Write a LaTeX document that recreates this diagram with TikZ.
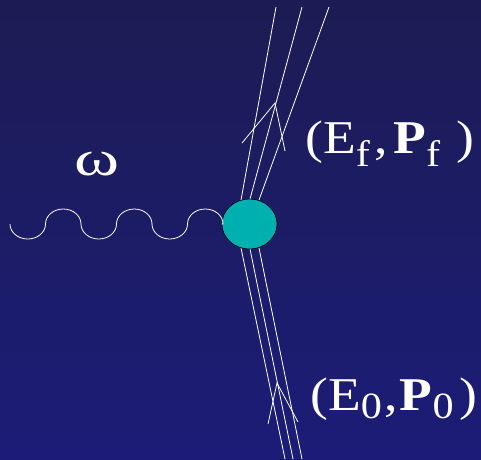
\documentclass[tikz,border=0pt]{standalone}
\usepackage{fontspec}
\setmainfont{Liberation Serif}
\usetikzlibrary{shapes.geometric}
\definecolor{bgtop}{RGB}{28,28,84}
\definecolor{bgbot}{RGB}{28,28,120}
\definecolor{blob}{RGB}{0,176,176}
\newcommand\lowsub[2]{\raisebox{-#1}{\fontsize{37}{40}\selectfont #2}}
\begin{document}
\begin{tikzpicture}[x=1pt,y=-1pt,
  wline/.style={white,line width=0.8pt},
  lbl/.style={text=white,inner sep=0pt,anchor=base west,xscale=1.14,font=\fontsize{47}{50}\selectfont}]
\useasboundingbox (0pt,0pt) rectangle (481pt,-459pt);
\shade[top color=bgtop,bottom color=bgbot] (0pt,0pt) rectangle (481pt,-459pt);
% particle lines
\coordinate (u1) at (241,200); \coordinate (u2) at (250,199); \coordinate (u3) at (259,200);
\coordinate (t1) at (276,7); \coordinate (t2) at (302,7); \coordinate (t3) at (329,7);
\coordinate (d1) at (241,248); \coordinate (d2) at (250,249); \coordinate (d3) at (259,248);
\coordinate (b1) at (285,459); \coordinate (b2) at (293,459); \coordinate (b3) at (302,459);
\draw[wline] (u1) -- (t1); \draw[wline] (u2) -- (t2); \draw[wline] (u3) -- (t3);
\draw[wline] (d1) -- (b1); \draw[wline] (d2) -- (b2); \draw[wline] (d3) -- (b3);
% arrows
\coordinate (ua) at (275,103); \coordinate (ul) at (242,143); \coordinate (ur) at (285,151);
\draw[wline] (ul) -- (ua) -- (ur);
\coordinate (da) at (277,383); \coordinate (dl) at (268,424); \coordinate (dr) at (298,422);
\draw[wline] (dl) -- (da) -- (dr);
% vertex
\node[ellipse,draw=black,fill=blob,line width=0.6pt,minimum width=55pt,minimum height=50pt,inner sep=0pt] (v) at (249.5,224) {};
% photon
\coordinate (w0) at (10,224);
\draw[wline] (w0)
  arc[start angle=180,end angle=0,x radius=17.75,y radius=15]
  arc[start angle=180,end angle=360,x radius=17.75,y radius=15]
  arc[start angle=180,end angle=0,x radius=17.75,y radius=15]
  arc[start angle=180,end angle=360,x radius=17.75,y radius=15]
  arc[start angle=180,end angle=0,x radius=17.75,y radius=15]
  arc[start angle=180,end angle=360,x radius=17.75,y radius=15] -- (v.west);
% labels
\node[lbl,xscale=1.2,font=\fontsize{50}{54}\selectfont] (om) at (74,175) {ω};
\node[lbl] (ef) at (305,153) {(E\lowsub{13pt}{f}\hspace{4pt},\hspace{5pt}\textbf{P}\lowsub{13pt}{f}\hspace{14pt})};
\node[lbl] (e0) at (310,410) {(E\lowsub{8pt}{0}\hspace{2pt},\hspace{2pt}\textbf{P}\lowsub{8pt}{0}\hspace{5pt})};
\end{tikzpicture}
\end{document}
